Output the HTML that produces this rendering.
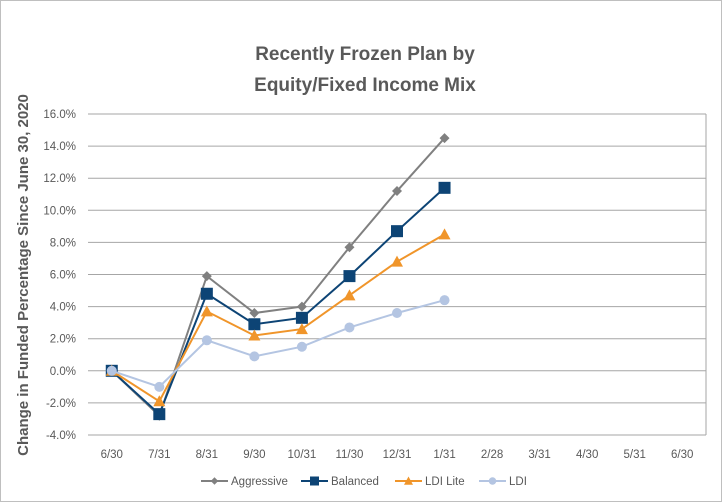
<!DOCTYPE html>
<html><head><meta charset="utf-8"><style>
body{margin:0;background:#fff;}
svg{display:block;font-family:"Liberation Sans",sans-serif;}
</style></head><body>
<svg id="chart" width="723" height="503">
<rect x="0.5" y="0.5" width="721" height="501" fill="#fff" stroke="#bfbfbf"/>
<text x="365" y="60" text-anchor="middle" font-size="19" font-weight="bold" fill="#595959">Recently Frozen Plan by</text>
<text x="365" y="91" text-anchor="middle" font-size="19" font-weight="bold" fill="#595959">Equity/Fixed Income Mix</text>
<text transform="translate(28,275) rotate(-90)" text-anchor="middle" font-size="15" font-weight="bold" fill="#595959">Change in Funded Percentage Since June 30, 2020</text>
<g id="grid"></g><g id="series"></g><g id="legend"></g>
</svg>
<script>
const categories=["6/30","7/31","8/31","9/30","10/31","11/30","12/31","1/31","2/28","3/31","4/30","5/31","6/30"];
const yTicks=[-4,-2,0,2,4,6,8,10,12,14,16];
const aggressive=[0,-2.8,5.9,3.6,4.0,7.7,11.2,14.5];
const balanced=[0,-2.7,4.8,2.9,3.3,5.9,8.7,11.4];
const ldiLite=[0,-1.9,3.7,2.2,2.6,4.7,6.8,8.5];
const ldi=[0,-1.0,1.9,0.9,1.5,2.7,3.6,4.4];
const seriesNames=["Aggressive","Balanced","LDI Lite","LDI"];

const NS="http://www.w3.org/2000/svg";
const L=88,R=706,T=114,B=435;
const x=i=>L+(R-L)/categories.length*(i+0.5);
const y=v=>B-(v+4)/20*(B-T);
function mk(tag,attrs,parent){const e=document.createElementNS(NS,tag);for(const k in attrs)e.setAttribute(k,attrs[k]);parent.appendChild(e);return e;}
const grid=document.getElementById('grid');
yTicks.forEach(t=>{
  const ln=mk('line',{x1:L,x2:R,y1:y(t),y2:y(t),stroke:'#a6a6a6','stroke-width':1},grid);
  
  
  const tx=mk('text',{x:L-12,y:y(t)+4,'text-anchor':'end','font-size':11.5,fill:'#595959'},grid);
  tx.textContent=t.toFixed(1)+'%';
  
  
});
const ax=mk('line',{x1:R,x2:R,y1:T,y2:B,stroke:'#a6a6a6'},grid);


categories.forEach((c,i)=>{
  const tx=mk('text',{x:x(i),y:458,'text-anchor':'middle','font-size':11.5,fill:'#595959'},grid);
  tx.textContent=c;
  
  
});
const colors=["#808080","#0d4475","#f0952a","#b4c5e2"];
const data=[aggressive,balanced,ldiLite,ldi];
const sg=document.getElementById('series');
function marker(k,cx,cy,p,big){
  const s=big?1:0.75;let e;
  if(k===0){e=mk('polygon',{points:`${cx},${cy-5*s} ${cx+5*s},${cy} ${cx},${cy+5*s} ${cx-5*s},${cy}`,fill:colors[0]},p);}
  else if(k===1){e=mk('rect',{x:cx-6*s,y:cy-6*s,width:12*s,height:12*s,fill:colors[1]},p);}
  else if(k===2){e=mk('polygon',{points:`${cx},${cy-6*s} ${cx+6*s},${cy+5*s} ${cx-6*s},${cy+5*s}`,fill:colors[2]},p);}
  else {e=mk('circle',{cx:cx,cy:cy,r:5*s,fill:colors[3]},p);}
  return e;
}
[0,1,2,3].forEach(k=>{
  const g=mk('g',{},sg);
  
  
  const pl=mk('polyline',{points:data[k].map((v,i)=>x(i)+','+y(v)).join(' '),fill:'none',stroke:colors[k],'stroke-width':2},g);
  
  
  data[k].forEach((v,i)=>{
    const m=marker(k,x(i),y(v),g,true);
    
    
  });
});
const lg=document.getElementById('legend');
const lx=[201,301,395,479];
[0,1,2,3].forEach(k=>{
  const g=mk('g',{},lg);
  
  
  mk('line',{x1:lx[k],x2:lx[k]+27,y1:481,y2:481,stroke:colors[k],'stroke-width':2},g);
  marker(k,lx[k]+13.5,481,g,false);
  const t=mk('text',{x:lx[k]+30,y:485,'font-size':11.5,fill:'#595959'},g);
  t.textContent=seriesNames[k];
});
</script>
</body></html>
